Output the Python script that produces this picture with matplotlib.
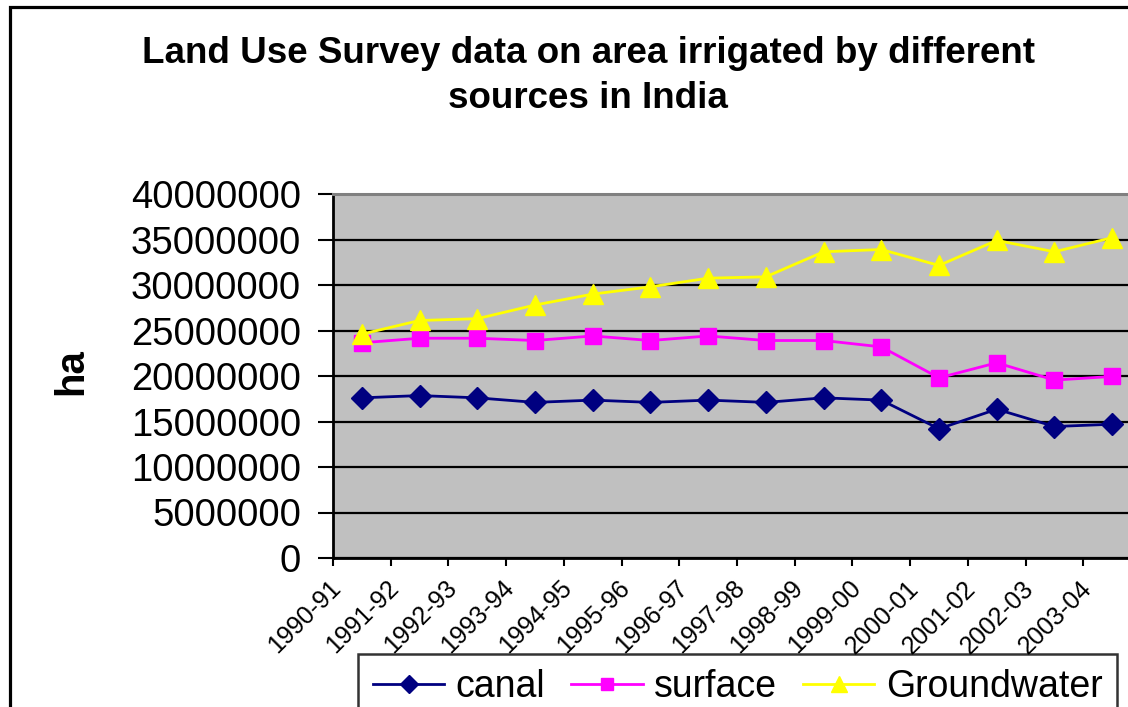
import matplotlib
matplotlib.use("Agg")
import matplotlib.pyplot as plt
import matplotlib.transforms as mtransforms
from matplotlib.patches import Rectangle
import numpy as np

plt.rcParams['font.family'] = ['Liberation Sans', 'DejaVu Sans']

years = ["1990-91", "1991-92", "1992-93", "1993-94", "1994-95", "1995-96", "1996-97",
         "1997-98", "1998-99", "1999-00", "2000-01", "2001-02", "2002-03", "2003-04"]
canal = [17600000, 17850000, 17600000, 17100000, 17350000, 17100000, 17350000,
         17100000, 17600000, 17350000, 14200000, 16350000, 14450000, 14700000]
surface = [23650000, 24150000, 24150000, 23900000, 24400000, 23900000, 24400000,
           23900000, 23900000, 23200000, 19800000, 21450000, 19550000, 19950000]
groundwater = [24600000, 26100000, 26300000, 27800000, 29000000, 29800000, 30750000,
               30900000, 33650000, 33900000, 32150000, 34900000, 33650000, 35200000]
y_ticks = [0, 5000000, 10000000, 15000000, 20000000, 25000000, 30000000, 35000000, 40000000]

W, H = 1128, 707
fig = plt.figure(figsize=(W / 100, H / 100), dpi=100)
fig.patch.set_facecolor("white")

# outer chart frame (runs off the right and bottom edges)
fig.patches.append(Rectangle((9.5 / W, -0.2), 1.3, 1 - 6.5 / H + 0.2,
                             transform=fig.transFigure, fill=False,
                             edgecolor="black", linewidth=2.3, zorder=0))

left, right, top, bottom = 333, 1141, 194, 558
ax = fig.add_axes([left / W, 1 - bottom / H, (right - left) / W, (bottom - top) / H])
ax.set_facecolor("#C0C0C0")

x = np.arange(len(years))
ax.plot(x, canal, color="#000080", lw=2.0, marker="D", markersize=11.5,
        markeredgecolor="#000080", label="canal", zorder=4)
ax.plot(x, surface, color="#FF00FF", lw=2.0, marker="s", markersize=11,
        markeredgecolor="#FF00FF", label="surface", zorder=4)
ax.plot(x, groundwater, color="#FFFF00", lw=2.0, marker="^", markersize=15,
        markeredgecolor="#FFFF00", label="Groundwater", zorder=4)

ax.set_xlim(-0.5, len(years) - 0.5)
ax.set_ylim(0, 40000000)
ax.set_yticks(y_ticks)
ax.set_yticklabels([str(v) for v in y_ticks], fontsize=27.5)
ax.yaxis.grid(True, color="black", linewidth=1.6)
ax.set_axisbelow(True)
ax.tick_params(axis="y", length=11, width=1.5, pad=12, direction="out")

# category boundaries as major ticks, labels centred on categories
ax.set_xticks(np.arange(len(years) + 1) - 0.5)
ax.set_xticklabels([])
ax.tick_params(axis="x", which="major", length=6, width=1.5, direction="out")
ax.set_xticks(x, minor=True)
ax.set_xticklabels(years, minor=True, fontsize=18)
ax.tick_params(axis="x", which="minor", length=0, pad=13)
offset = mtransforms.ScaledTranslation(-33 / 100, 0, fig.dpi_scale_trans)
for lab in ax.get_xticklabels(minor=True):
    lab.set_rotation(45)
    lab.set_ha("right")
    lab.set_va("top")
    lab.set_rotation_mode("anchor")
    lab.set_transform(lab.get_transform() + offset)

for side in ("left", "bottom"):
    ax.spines[side].set_color("black")
    ax.spines[side].set_linewidth(2)
ax.spines["top"].set_color("#808080")
ax.spines["top"].set_linewidth(2.2)
ax.spines["right"].set_visible(False)

fig.text(588 / W, 1 - 76 / H,
         "Land Use Survey data on area irrigated by different\nsources in India",
         ha="center", va="center", fontsize=26.5, fontweight="bold", linespacing=1.4)
fig.text(71 / W, 1 - 372 / H, "ha", rotation=90, ha="center", va="center",
         fontsize=29, fontweight="bold")

leg = fig.legend(loc="upper left", bbox_to_anchor=(358 / W, 1 - 654 / H), ncol=3,
                 fontsize=27, frameon=True, fancybox=False, edgecolor="black",
                 handlelength=1.9, handletextpad=0.3, columnspacing=0.7,
                 borderpad=0.4, borderaxespad=0, markerscale=0.8)
leg.get_frame().set_linewidth(1.8)

fig.savefig("out.png", dpi=100)
